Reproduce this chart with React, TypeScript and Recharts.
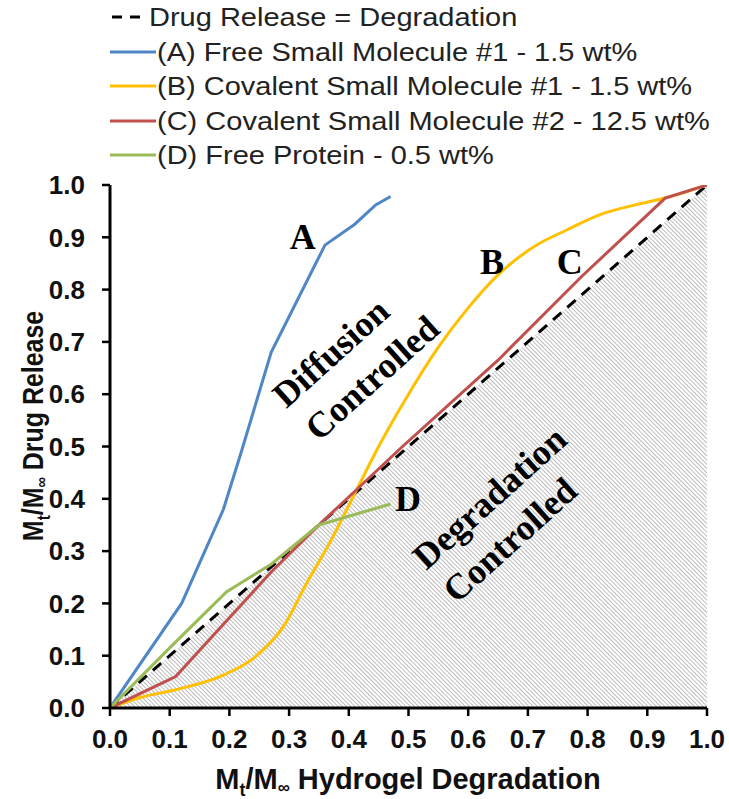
import React from 'react';
import { ComposedChart, Line, Area, XAxis, YAxis, Legend, ReferenceDot } from 'recharts';

// ---- data ----
const diagX = [0, 1];
const diagY = [0, 1];

const aX = [0, 0.12, 0.19, 0.22, 0.27, 0.36, 0.41, 0.445, 0.47];
const aY = [0, 0.2, 0.38, 0.49, 0.68, 0.885, 0.925, 0.962, 0.978];

const bX = [0, 0.05, 0.11, 0.19, 0.24, 0.29, 0.33, 0.37, 0.41, 0.45, 0.5, 0.55, 0.6, 0.65, 0.71, 0.765, 0.82, 0.88, 0.93, 1.0];
const bY = [0, 0.02, 0.035, 0.063, 0.095, 0.155, 0.24, 0.32, 0.41, 0.5, 0.6, 0.69, 0.765, 0.828, 0.882, 0.914, 0.943, 0.962, 0.975, 1.0];

const cX = [0, 0.11, 0.19, 0.27, 0.35, 0.42, 0.49, 0.65, 0.79, 0.93, 1.0];
const cY = [0, 0.06, 0.16, 0.26, 0.35, 0.425, 0.5, 0.665, 0.825, 0.975, 1.0];

const dX = [0, 0.1, 0.195, 0.27, 0.35, 0.41, 0.47];
const dY = [0, 0.115, 0.222, 0.275, 0.35, 0.37, 0.39];

const ticks = [0, 0.1, 0.2, 0.3, 0.4, 0.5, 0.6, 0.7, 0.8, 0.9, 1.0];

const legendItems = [
  { label: 'Drug Release = Degradation', color: '#000000', dashed: true },
  { label: '(A) Free Small Molecule #1 - 1.5 wt%', color: '#4F86C6', dashed: false },
  { label: '(B) Covalent Small Molecule #1 - 1.5 wt%', color: '#FFC000', dashed: false },
  { label: '(C) Covalent Small Molecule #2 - 12.5 wt%', color: '#C0504D', dashed: false },
  { label: '(D) Free Protein - 0.5 wt%', color: '#9BBB59', dashed: false },
];

const annotations = [
  { x: 0.323, y: 0.9, text: 'A', angle: 0 },
  { x: 0.64, y: 0.853, text: 'B', angle: 0 },
  { x: 0.77, y: 0.853, text: 'C', angle: 0 },
  { x: 0.499, y: 0.4, text: 'D', angle: 0 },
  { x: 0.37, y: 0.679, text: 'Diffusion', angle: -42 },
  { x: 0.439, y: 0.631, text: 'Controlled', angle: -42 },
  { x: 0.636, y: 0.402, text: 'Degradation', angle: -42 },
  { x: 0.67, y: 0.321, text: 'Controlled', angle: -42 },
];

const zip = (xs: number[], ys: number[]) => xs.map((x, i) => ({ x, y: ys[i] }));
const diagData = zip(diagX, diagY);
const aData = zip(aX, aY);
const bData = zip(bX, bY);
const cData = zip(cX, cY);
const dData = zip(dX, dY);

const SANS = 'Arial, "Liberation Sans", sans-serif';
const SERIF = '"Times New Roman", "Liberation Serif", serif';

const LegendContent = () => (
  <div style={{ fontFamily: SANS, fontSize: 29, color: '#222', lineHeight: '34.5px' }}>
    {legendItems.map((it) => (
      <div key={it.label} style={{ display: 'flex', alignItems: 'center', height: 34.5, whiteSpace: 'nowrap' }}>
        <svg width={46} height={10} style={{ marginRight: 1 }}>
          {it.dashed ? (
            <g>
              <line x1={2} y1={5} x2={12} y2={5} stroke="#000" strokeWidth={3} />
              <line x1={20} y1={5} x2={30} y2={5} stroke="#000" strokeWidth={3} />
            </g>
          ) : (
            <line x1={0} y1={5} x2={46} y2={5} stroke={it.color} strokeWidth={3} />
          )}
        </svg>
        <span style={{ display: 'inline-block', transform: 'scaleY(0.9)', marginLeft: it.dashed ? -8 : 0 }}>{it.label}</span>
      </div>
    ))}
  </div>
);

const XTitle = () => (
  <text x={408} y={789} textAnchor="middle" fontFamily={SANS} fontWeight="bold" fontSize={29} fill="#111">
    <tspan>M</tspan>
    <tspan fontSize={18} dy={7}>t</tspan>
    <tspan dy={-7}>/M</tspan>
    <tspan fontSize={17} dy={4}>∞</tspan>
    <tspan dy={-4}> Hydrogel Degradation</tspan>
  </text>
);

const YTitle = () => {
  const cx = 43;
  const cy = 426;
  return (
    <g transform={`rotate(-90 ${cx} ${cy})`}>
      <text
        x={cx}
        y={cy}
        textAnchor="middle"
        transform={`translate(${cx} ${cy}) scale(0.86 1) translate(${-cx} ${-cy})`}
        fontFamily={SANS}
        fontWeight="bold"
        fontSize={29}
        fill="#111"
      >
        <tspan>M</tspan>
        <tspan fontSize={18} dy={7}>t</tspan>
        <tspan dy={-7}>/M</tspan>
        <tspan fontSize={17} dy={4}>∞</tspan>
        <tspan dy={-4}> Drug Release</tspan>
      </text>
    </g>
  );
};

const makeShape = (text: string, angle: number) => (p: any) => (
  <text
    x={p.cx}
    y={p.cy}
    textAnchor="middle"
    dominantBaseline="central"
    transform={angle ? `rotate(${angle} ${p.cx} ${p.cy})` : undefined}
    fontFamily={SERIF}
    fontWeight="bold"
    fontSize={36}
    fill="#000"
  >
    {text}
  </text>
);

export default function App() {
  return (
    <div style={{ position: 'absolute', left: 0, top: 0, width: 729, height: 799, background: '#fff' }}>
      <ComposedChart width={729} height={799} margin={{ top: 185, right: 22, bottom: 0, left: 0 }}>
        <defs>
          <pattern id="hatch" width="3" height="3" patternUnits="userSpaceOnUse" patternTransform="rotate(-45)">
            <rect width="3" height="3" fill="#ffffff" />
            <line x1="0" y1="0" x2="0" y2="3" stroke="#8f8f8f" strokeWidth="1.2" />
          </pattern>
        </defs>
        <XAxis
          type="number"
          dataKey="x"
          domain={[0, 1]}
          ticks={ticks}
          tickFormatter={(v: number) => v.toFixed(1)}
          allowDataOverflow
          height={91}
          axisLine={{ stroke: '#000', strokeWidth: 3 }}
          tickLine={{ stroke: '#000', strokeWidth: 2.5 }}
          tickSize={8}
          tickMargin={14}
          tick={{ fontFamily: SANS, fontWeight: 'bold', fontSize: 26, fill: '#111' }}
          label={<XTitle />}
        />
        <YAxis
          type="number"
          dataKey="y"
          domain={[0, 1]}
          ticks={ticks}
          tickFormatter={(v: number) => v.toFixed(1)}
          allowDataOverflow
          width={110}
          axisLine={{ stroke: '#000', strokeWidth: 3 }}
          tickLine={{ stroke: '#000', strokeWidth: 2.5 }}
          tickSize={8}
          tickMargin={17}
          tick={{ fontFamily: SANS, fontWeight: 'bold', fontSize: 26, fill: '#111' }}
          label={<YTitle />}
        />
        <Legend
          layout="horizontal"
          verticalAlign="middle"
          align="center"
          wrapperStyle={{ top: 0, left: 110, width: 619 }}
          content={<LegendContent />}
        />
        <Area data={diagData} dataKey="y" type="linear" fill="url(#hatch)" fillOpacity={1} stroke="none" isAnimationActive={false} baseValue={0} />
        <Line data={diagData} dataKey="y" type="linear" stroke="#000" strokeWidth={3} strokeDasharray="11 8" dot={false} isAnimationActive={false} />
        <Line data={aData} dataKey="y" type="linear" stroke="#4F86C6" strokeWidth={3} dot={false} isAnimationActive={false} />
        <Line data={bData} dataKey="y" type="monotone" stroke="#FFC000" strokeWidth={3} dot={false} isAnimationActive={false} />
        <Line data={cData} dataKey="y" type="linear" stroke="#C0504D" strokeWidth={3} dot={false} isAnimationActive={false} />
        <Line data={dData} dataKey="y" type="linear" stroke="#9BBB59" strokeWidth={3} dot={false} isAnimationActive={false} />
        {annotations.map((a, i) => (
          <ReferenceDot key={i} x={a.x} y={a.y} r={0} ifOverflow="visible" shape={makeShape(a.text, a.angle)} />
        ))}
      </ComposedChart>
    </div>
  );
}
